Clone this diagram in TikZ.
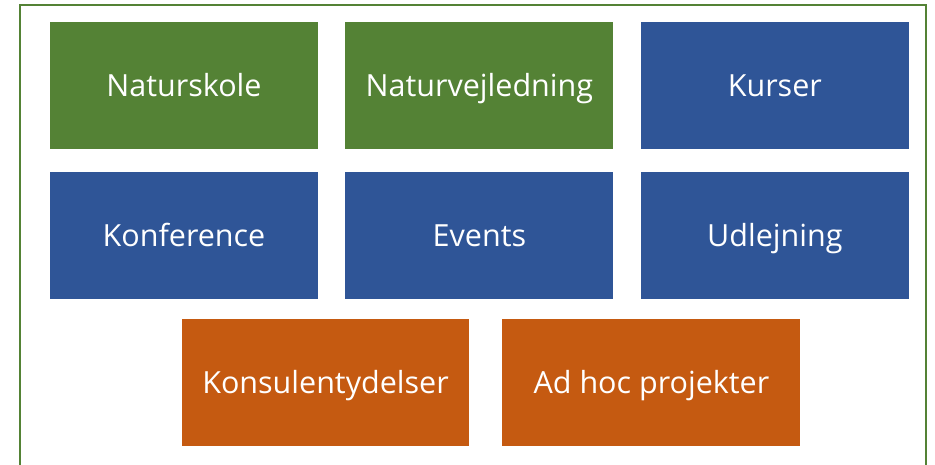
\documentclass[tikz,border=0pt]{standalone}
\usepackage{fontspec}
\setmainfont{Open Sans}
\usetikzlibrary{positioning}
\definecolor{grn}{HTML}{548235}
\definecolor{blu}{HTML}{2F5597}
\definecolor{orn}{HTML}{C55A11}

\begin{document}
\begin{tikzpicture}[x=1pt,y=-1pt,node distance=27pt,
  box/.style={rectangle,minimum width=268pt,minimum height=127pt,inner sep=0pt,
    text=white,text height=24pt,text depth=3pt,font=\fontsize{30.5}{36}\selectfont},
  green box/.style={box,fill=grn},
  blue box/.style={box,fill=blu},
  orange box/.style={box,fill=orn,minimum width=287pt}]
   \useasboundingbox (0,0) rectangle (935,464);
   \draw[grn,line width=2pt] (20,470) -- (20,5) -- (926,5) -- (926,470);
   \node[green box]  (natur)   at (184,85.5)               {Naturskole};
   \node[green box]  (vejled)  [right=of natur]          {Naturvejledning};
   \node[blue box]   (kurser)  [right=of vejled]         {Kurser};
   \node[blue box]   (konf)    [below=23pt of natur]     {Konference};
   \node[blue box]   (events)  [below=23pt of vejled]    {Events};
   \node[blue box]   (udlej)   [below=23pt of kurser]    {Udlejning};
   \node[orange box] (konsul)  at (325.5,382.5)            {Konsulentydelser};
   \node[orange box,minimum width=298pt] (adhoc) [right=33pt of konsul] {Ad hoc projekter};
\end{tikzpicture}
\end{document}
